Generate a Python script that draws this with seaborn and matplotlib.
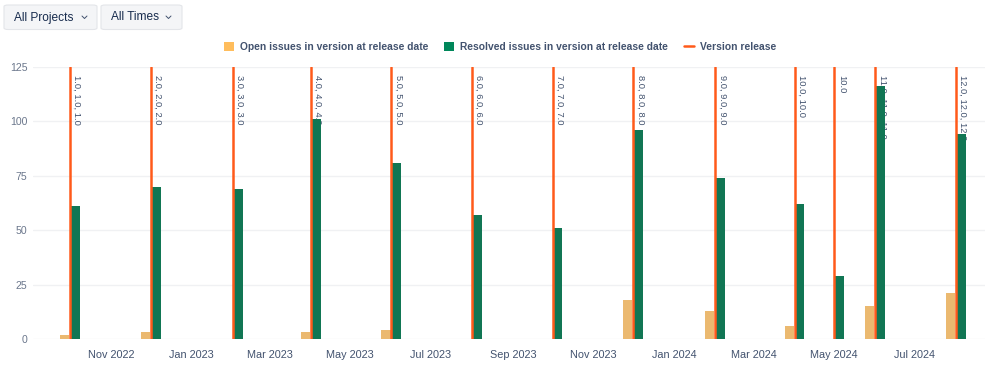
import pandas as pd
import matplotlib.pyplot as plt
import matplotlib.dates as mdates
from matplotlib.patches import Patch, FancyBboxPatch
from matplotlib.lines import Line2D
import seaborn as sns

# release data
release_dates = ['2022-10-01', '2022-12-01', '2023-02-01', '2023-04-01', '2023-06-01',
                 '2023-08-01', '2023-10-01', '2023-12-01', '2024-02-01', '2024-04-01',
                 '2024-05-01', '2024-06-01', '2024-08-01']
version_labels = ['1.0, 1.0, 1.0', '2.0, 2.0, 2.0', '3.0, 3.0, 3.0', '4.0, 4.0, 4.0',
                  '5.0, 5.0, 5.0', '6.0, 6.0, 6.0', '7.0, 7.0, 7.0', '8.0, 8.0, 8.0',
                  '9.0, 9.0, 9.0', '10.0, 10.0', '10.0', '11.0, 11.0, 11.0',
                  '12.0, 12.0, 12.0']
open_issues = [2, 3, 0, 3, 4, 0, 0, 18, 13, 6, 0, 15, 21]
resolved_issues = [61, 70, 69, 101, 81, 57, 51, 96, 74, 62, 29, 116, 94]
y_ticks = [0, 25, 50, 75, 100, 125]

open_name = 'Open issues in version at release date'
resolved_name = 'Resolved issues in version at release date'
release_name = 'Version release'

c_open = '#ffbd5c'
c_resolved = '#00875a'
c_line = '#ff5a1a'
c_text = '#42526e'
c_tick = '#6b778c'

dates = pd.to_datetime(release_dates)
xnum = mdates.date2num(dates)
df = pd.DataFrame({
    'x': list(xnum) * 2,
    'count': open_issues + resolved_issues,
    'series': [open_name] * len(xnum) + [resolved_name] * len(xnum),
})

sns.set_style('white')
plt.rcParams['font.family'] = ['Liberation Sans', 'DejaVu Sans']

fig = plt.figure(figsize=(9.99, 3.71), dpi=100)
ax = fig.add_axes([33 / 999, 1 - 339 / 371, (985 - 33) / 999, (339 - 66.7) / 371])

sns.barplot(data=df, x='x', y='count', hue='series', native_scale=True, dodge=True,
            width=0.537, gap=0.15, palette=[c_open, c_resolved], errorbar=None,
            legend=False, linewidth=0, zorder=2, ax=ax)

for d, lab in zip(xnum, version_labels):
    ax.axvline(d, color=c_line, lw=1.8, zorder=2.5)
    ax.annotate(lab, xy=(d, 125), xytext=(1.8, -6), textcoords='offset points',
                rotation=-90, ha='left', va='top', fontsize=6.7, color=c_text, zorder=1)

ax.set_ylim(0, 125)
ax.set_xlim(mdates.date2num(pd.Timestamp('2022-09-03')), mdates.date2num(pd.Timestamp('2024-08-23')))
ax.set_yticks(y_ticks)
ax.yaxis.grid(True, color='#f0f1f3', lw=1, zorder=0)
ax.set_axisbelow(True)
ax.xaxis.set_major_locator(mdates.MonthLocator(bymonth=[1, 3, 5, 7, 9, 11]))
ax.xaxis.set_major_formatter(mdates.DateFormatter('%b %Y'))
ax.set_xlabel('')
ax.set_ylabel('')
for s in ax.spines.values():
    s.set_visible(False)
ax.tick_params(axis='y', length=0, pad=4, labelsize=7.6, labelcolor=c_tick)
ax.tick_params(axis='x', length=5, width=0.8, color='#e4e6ea', pad=3, labelsize=7.8,
               labelcolor=c_text)
# hide the tick that falls at the left edge (Sep 2022)
cut = mdates.date2num(pd.Timestamp('2022-10-01'))
for lbl, tk, t in zip(ax.get_xticklabels(), ax.xaxis.get_major_ticks(), ax.get_xticks()):
    if t < cut:
        lbl.set_visible(False)
        tk.tick1line.set_visible(False)

handles = [Patch(facecolor=c_open, edgecolor='none'),
           Patch(facecolor=c_resolved, edgecolor='none'),
           Line2D([0], [0], color=c_line, lw=1.8)]
leg = fig.legend(handles, [open_name, resolved_name, release_name], loc='center',
                 bbox_to_anchor=(500 / 999, 1 - 47 / 371), ncol=3, frameon=False,
                 fontsize=7.4, handlelength=0.95, handleheight=1.0, handletextpad=0.55,
                 columnspacing=1.6)
for t in leg.get_texts():
    t.set_color(c_text)
    t.set_fontweight('bold')

# filter buttons at the top
def button(x0, x1, label, chev_x):
    W, H = 999, 371
    box = FancyBboxPatch((x0 / W, 1 - 29.5 / H), (x1 - x0) / W, 24.5 / H,
                         boxstyle='round,pad=0,rounding_size=0.004',
                         transform=fig.transFigure, facecolor='#f4f5f7',
                         edgecolor='#e3e5e9', lw=0.8)
    fig.patches.append(box)
    fig.text((x0 + 10) / W, 1 - 17.5 / H, label, fontsize=8.6, color='#172b4d',
             va='center', ha='left')
    fig.add_artist(Line2D([chev_x / W, (chev_x + 2.5) / W, (chev_x + 5) / W],
                          [1 - 16 / H, 1 - 18.5 / H, 1 - 16 / H],
                          transform=fig.transFigure, color='#42526e', lw=0.7))

button(4, 97, 'All Projects', 82)
button(101, 182, 'All Times', 166)

plt.savefig('out.png', dpi=100)
